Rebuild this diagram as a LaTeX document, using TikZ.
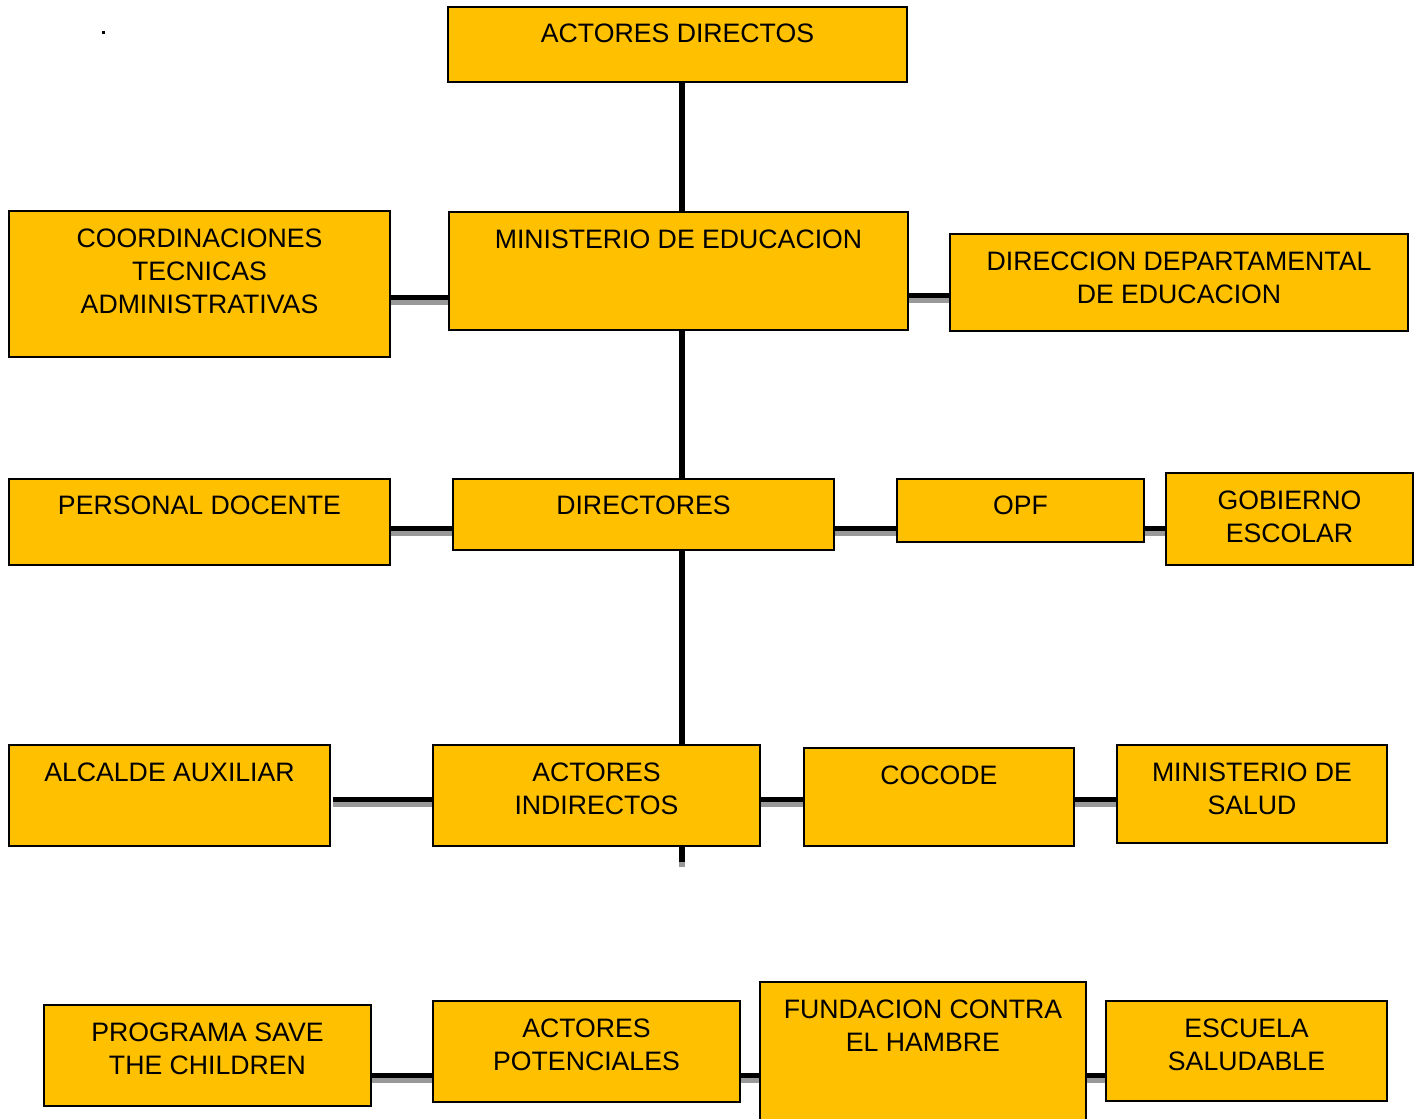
\documentclass[tikz,border=0pt]{standalone}
\usepackage{fontspec}
\setmainfont{Liberation Sans}
\usetikzlibrary{fit}
\definecolor{boxfill}{HTML}{FFC000}
\tikzset{
  x=0.75pt, y=-0.75pt,
  box/.style={draw=black, line width=1.3pt, fill=boxfill, inner sep=0pt},
  txt/.style={anchor=north, inner sep=0pt, align=center, font=\fontsize{20}{24.75}\selectfont},
  conn/.style={line width=3.75pt, black},
  vconn/.style={line width=5pt, black},
  shad/.style={line width=3.75pt, black!40},
  vshad/.style={line width=5pt, black!40},
}
\begin{document}
\begin{tikzpicture}
\useasboundingbox (0,0) rectangle (1417,1118);
\fill[white] (0,0) rectangle (1417,1118);
\path
  coordinate (ad1) at (448,7)    coordinate (ad2) at (907,82)
  coordinate (me1) at (449,212)  coordinate (me2) at (908,330)
  coordinate (ct1) at (9,211)    coordinate (ct2) at (390,357)
  coordinate (dd1) at (950,234)  coordinate (dd2) at (1408,331)
  coordinate (pd1) at (9,479)    coordinate (pd2) at (390,565)
  coordinate (di1) at (453,479)  coordinate (di2) at (834,550)
  coordinate (op1) at (897,479)  coordinate (op2) at (1144,542)
  coordinate (ge1) at (1166,473) coordinate (ge2) at (1413,565)
  coordinate (aa1) at (9,745)    coordinate (aa2) at (330,846)
  coordinate (ai1) at (433,745)  coordinate (ai2) at (760,846)
  coordinate (cc1) at (804,748)  coordinate (cc2) at (1074,846)
  coordinate (ms1) at (1117,745) coordinate (ms2) at (1387,843)
  coordinate (ps1) at (44,1005)  coordinate (ps2) at (371,1106)
  coordinate (ap1) at (433,1001) coordinate (ap2) at (740,1102)
  coordinate (fc1) at (760,982)  coordinate (fc2) at (1086,1125)
  coordinate (es1) at (1106,1001) coordinate (es2) at (1387,1101);
\path
  node[fit=(ad1)(ad2), inner sep=0pt] (ad) {}
  node[fit=(me1)(me2), inner sep=0pt] (me) {}
  node[fit=(ct1)(ct2), inner sep=0pt] (ct) {}
  node[fit=(dd1)(dd2), inner sep=0pt] (dd) {}
  node[fit=(pd1)(pd2), inner sep=0pt] (pd) {}
  node[fit=(di1)(di2), inner sep=0pt] (di) {}
  node[fit=(op1)(op2), inner sep=0pt] (op) {}
  node[fit=(ge1)(ge2), inner sep=0pt] (ge) {}
  node[fit=(aa1)(aa2), inner sep=0pt] (aa) {}
  node[fit=(ai1)(ai2), inner sep=0pt] (ai) {}
  node[fit=(cc1)(cc2), inner sep=0pt] (cc) {}
  node[fit=(ms1)(ms2), inner sep=0pt] (ms) {}
  node[fit=(ps1)(ps2), inner sep=0pt] (ps) {}
  node[fit=(ap1)(ap2), inner sep=0pt] (ap) {}
  node[fit=(fc1)(fc2), inner sep=0pt] (fc) {}
  node[fit=(es1)(es2), inner sep=0pt] (es) {};
\coordinate (spx) at (682,0);
\coordinate (stub) at (682,862);
% vertical connectors
\foreach \a/\b in {ad/me, me/di, di/ai}{
  \draw[vconn] (\a.south -| spx) -- (\b.north -| spx);
}
\draw[vshad] ([yshift=-3.75pt]ai.south -| spx) -- ([yshift=-3.75pt]stub);
\draw[vconn] (ai.south -| spx) -- (stub);
% horizontal connectors
\foreach \a/\b/\yy in {ct/me/297.5, me/dd/295, pd/di/528.5, di/op/528.5, op/ge/528.5,
                       ai/cc/799.5, cc/ms/799.5, ps/ap/1075, ap/fc/1075, fc/es/1075}{
  \draw[shad] (\a.east |- 0,\yy+5) -- (\b.west |- 0,\yy+5);
  \draw[conn] (\a.east |- 0,\yy) -- (\b.west |- 0,\yy);
}
\coordinate (aastart) at (333,799.5);
\draw[shad] ([yshift=-3.75pt]aastart) -- ([yshift=-3.75pt]ai.west |- aastart);
\draw[conn] (aastart) -- (ai.west |- aastart);
% boxes on top
\foreach \n in {ad,me,ct,dd,pd,di,op,ge,aa,ai,cc,ms,ps,ap,fc,es}{
  \draw[box] (\n.south west) rectangle (\n.north east);
}
% texts
\node[txt] (tad) at (ad.center |- 0,23.5) {ACTORES DIRECTOS};
\node[txt] (tme) at (me.center |- 0,229.5) {MINISTERIO DE EDUCACION};
\node[txt] (tct) at (ct.center |- 0,228.5) {COORDINACIONES\\TECNICAS\\ADMINISTRATIVAS};
\node[txt] (tdd) at (dd.center |- 0,251.5) {DIRECCION DEPARTAMENTAL\\DE EDUCACION};
\node[txt] (tpd) at (pd.center |- 0,495.5) {PERSONAL DOCENTE};
\node[txt] (tdi) at (di.center |- 0,495.5) {DIRECTORES};
\node[txt] (top) at (op.center |- 0,495.5) {OPF};
\node[txt] (tge) at (ge.center |- 0,490.5) {GOBIERNO\\ESCOLAR};
\node[txt] (taa) at (aa.center |- 0,762.5) {ALCALDE AUXILIAR};
\node[txt] (tai) at (ai.center |- 0,762.5) {ACTORES\\INDIRECTOS};
\node[txt] (tcc) at (cc.center |- 0,765.5) {COCODE};
\node[txt] (tms) at (ms.center |- 0,762.5) {MINISTERIO DE\\SALUD};
\node[txt] (tps) at (ps.center |- 0,1022.5) {PROGRAMA SAVE\\THE CHILDREN};
\node[txt] (tap) at (ap.center |- 0,1018.5) {ACTORES\\POTENCIALES};
\node[txt] (tfc) at (fc.center |- 0,999.5) {FUNDACION CONTRA\\EL HAMBRE};
\node[txt] (tes) at (es.center |- 0,1018.5) {ESCUELA\\SALUDABLE};
\fill[black] (101.5,30.5) rectangle (104.5,33.5);
\end{tikzpicture}
\end{document}
